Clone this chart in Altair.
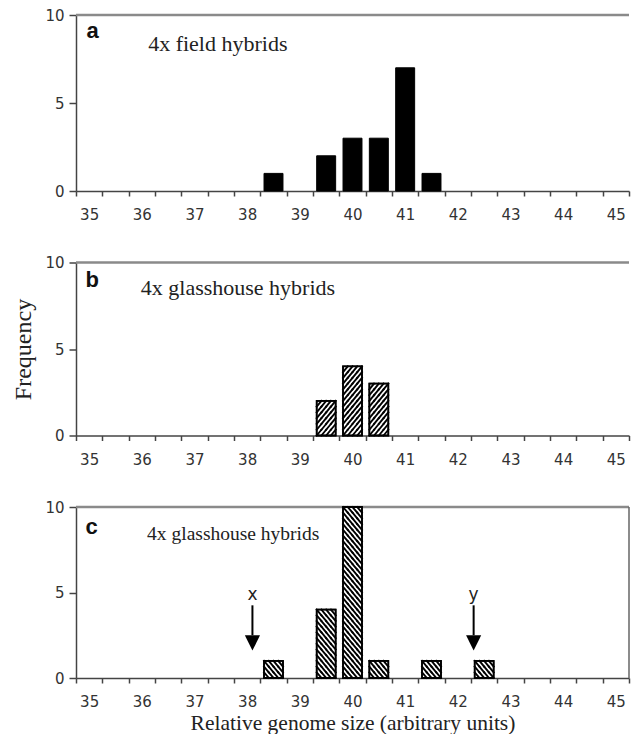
import altair as alt
import pandas as pd

# ---------------- data ----------------
sizes_a = [38.5, 39.5, 40.0, 40.5, 41.0, 41.5]
freq_a = [1, 2, 3, 3, 7, 1]

sizes_b = [39.5, 40.0, 40.5]
freq_b = [2, 4, 3]

sizes_c = [38.5, 39.5, 40.0, 40.5, 41.5, 42.5]
freq_c = [1, 4, 10, 1, 1, 1]

panel_letters = ["a", "b", "c"]
panel_texts = ["4x field hybrids", "4x glasshouse hybrids", "4x glasshouse hybrids"]

arrow_sizes = [38.1, 42.3]
arrow_letters = ["x", "y"]

x_tick_values = [34.75, 35.25, 35.75, 36.25, 36.75, 37.25, 37.75, 38.25, 38.75,
                 39.25, 39.75, 40.25, 40.75, 41.25, 41.75, 42.25, 42.75, 43.25,
                 43.75, 44.25, 44.75, 45.25]
y_tick_values = [0, 5, 10]
x_title = "Relative genome size (arbitrary units)"
y_title = "Frequency"

# ---------------- styling constants ----------------
W = 553
BAR_HALF = 0.18
HATCH_COLS = 4
HATCH_ROWS_PER_UNIT = 3
SERIF = "Liberation Serif"
SANS = "DejaVu Sans"

XS = alt.Scale(domain=[34.75, 45.25], nice=False, zero=False)
YS = alt.Scale(domain=[0, 10], nice=False, zero=True)


def x_axis(title):
    kw = dict(
        values=x_tick_values,
        labelExpr="(datum.value + 0.25) % 1 == 0 ? format(datum.value + 0.25, 'd') : ''",
        labelOffset=13.17,
        labelFlush=False,
        labelOverlap=False,
        labelBound=False,
        tickSize=5,
        labelPadding=11.5,
        grid=False,
        labelFont=SANS,
        labelFontSize=15,
    )
    if title:
        kw.update(title=title, titleFont=SERIF, titleFontSize=21.5, titleFontWeight="normal",
                  titlePadding=3, titleColor="#222")
    else:
        kw.update(title=None)
    return alt.Axis(**kw)


def y_axis(title):
    kw = dict(values=y_tick_values, tickSize=7, labelPadding=5, grid=False,
              labelFont=SANS, labelFontSize=15)
    if title:
        kw.update(title=title, titleFont=SERIF, titleFontSize=24, titleFontWeight="normal",
                  titlePadding=9, titleColor="#222")
    else:
        kw.update(title=None)
    return alt.Axis(**kw)


def panel(idx, sizes, freqs, hatch, height, ytitle, xtitle,
          letter_pos, text_pos, text_size, arrows=False, right_border=False):
    xa = x_axis(xtitle)
    ya = y_axis(ytitle)

    def X(f):
        return alt.X(f, type="quantitative", scale=XS, axis=xa)

    def Y(f):
        return alt.Y(f, type="quantitative", scale=YS, axis=ya)

    layers = []

    grid = alt.Chart(pd.DataFrame({"g": [y_tick_values[-1]]})).mark_rule(
        color="#8a8a8a", strokeWidth=2.5).encode(y=Y("g"))
    layers.append(grid)

    bars_df = pd.DataFrame({"size": sizes, "freq": freqs})
    base = alt.Chart(bars_df).transform_calculate(
        lo=f"datum.size - {BAR_HALF}", hi=f"datum.size + {BAR_HALF}", zero="0")

    if hatch is None:
        layers.append(base.mark_bar(fill="black", stroke="black", strokeWidth=1)
                      .encode(x=X("lo"), x2="hi", y=Y("freq"), y2="zero"))
    else:
        layers.append(base.mark_bar(fill="white", stroke="black", strokeWidth=1.5)
                      .encode(x=X("lo"), x2="hi", y=Y("freq"), y2="zero"))
        cw = 2 * BAR_HALF / HATCH_COLS
        rh = 1.0 / HATCH_ROWS_PER_UNIT
        h = (base.transform_calculate(
                cells=f"sequence(0, datum.freq * {HATCH_ROWS_PER_UNIT * HATCH_COLS})")
             .transform_flatten(["cells"], as_=["cell"])
             .transform_calculate(
                col=f"datum.cell % {HATCH_COLS}",
                row=f"floor(datum.cell / {HATCH_COLS})")
             .transform_calculate(
                hx0=f"datum.lo + datum.col * {cw}",
                hx1=f"datum.lo + (datum.col + 1) * {cw}",
                ylo=f"datum.row * {rh}",
                yhi=f"(datum.row + 1) * {rh}"))
        if hatch == "/":
            enc = dict(x=X("hx0"), x2="hx1", y=Y("ylo"), y2="yhi")
        else:
            enc = dict(x=X("hx0"), x2="hx1", y=Y("yhi"), y2="ylo")
        layers.append(h.mark_rule(stroke="black", strokeWidth=1.9, strokeCap="square").encode(**enc))
        layers.append(base.mark_bar(filled=False, stroke="black", strokeWidth=1.8)
                      .encode(x=X("lo"), x2="hi", y=Y("freq"), y2="zero"))

    if right_border:
        rb = alt.Chart(pd.DataFrame({"e": [XS.domain[1]]})).transform_calculate(
            y0="0", y1="10").mark_rule(color="#666", strokeWidth=1.5).encode(
            x=X("e"), y=Y("y0"), y2="y1")
        layers.append(rb)

    if arrows:
        adf = pd.DataFrame({"pos": arrow_sizes, "letter": arrow_letters})
        ab = alt.Chart(adf).transform_calculate(s0="2.5", s1="4.25", hy="2.05", ly="4.85")
        layers.append(ab.mark_rule(color="black", strokeWidth=2).encode(
            x=X("pos"), y=Y("s0"), y2="s1"))
        layers.append(ab.mark_point(shape="M-1,-1L1,-1L0,1Z", size=230, filled=True,
                                    color="black", opacity=1).encode(x=X("pos"), y=Y("hy")))
        layers.append(ab.mark_text(font=SANS, fontSize=17, color="#222", baseline="middle")
                      .encode(x=X("pos"), y=Y("ly"), text="letter:N"))

    tdf = pd.DataFrame({"letter": [panel_letters[idx]], "label": [panel_texts[idx]]})
    tb = alt.Chart(tdf).transform_calculate(
        lx=str(letter_pos[0]), ly=str(letter_pos[1]),
        tx=str(text_pos[0]), ty=str(text_pos[1]))
    layers.append(tb.mark_text(font="Liberation Sans", fontWeight="bold", fontSize=22,
                               align="left", baseline="middle", color="#111")
                  .encode(x=X("lx"), y=Y("ly"), text="letter:N"))
    layers.append(tb.mark_text(font=SERIF, fontSize=text_size,
                               align="left", baseline="middle", color="#222")
                  .encode(x=X("tx"), y=Y("ty"), text="label:N"))

    return alt.layer(*layers).properties(width=W, height=height)


pa = panel(0, sizes_a, freq_a, None, 176, None, None, (34.95, 9.1), (36.12, 8.35), 22)
pb = panel(1, sizes_b, freq_b, "/", 173, y_title, None, (34.93, 9.0), (35.98, 8.5), 22)
pc = panel(2, sizes_c, freq_c, "\\", 171, None, x_title, (34.93, 8.85), (36.1, 8.4), 19.5,
           arrows=True, right_border=True)

chart = alt.vconcat(pa, pb, pc, spacing=32.5).properties(
    padding={"left": 3, "top": 0, "right": -12, "bottom": 0},
    background="white",
).configure_view(stroke=None).configure_axis(
    domainColor="#444", tickColor="#444", labelColor="#333",
    domainWidth=1.5, tickWidth=1.5,
)

chart.save("out.html", embed_options={"renderer": "svg", "actions": False})
